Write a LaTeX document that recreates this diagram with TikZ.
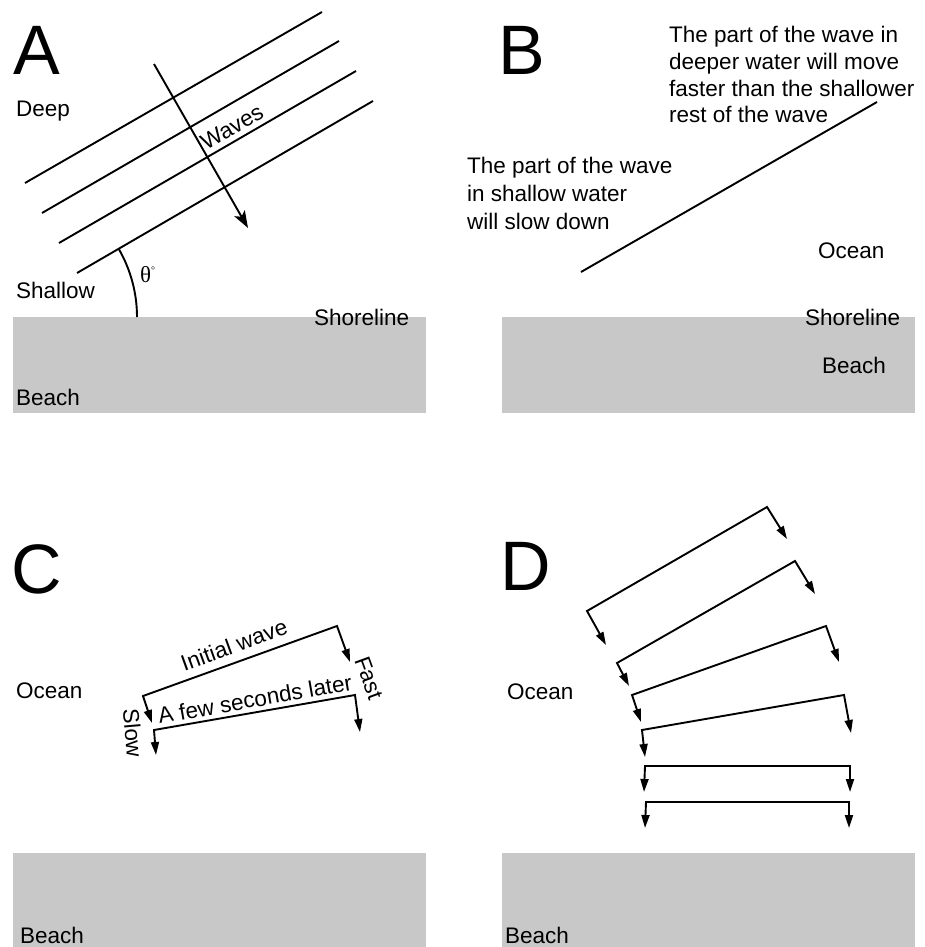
\documentclass[tikz,border=0pt]{standalone}
\usepackage{fontspec}
\setmainfont{Liberation Sans}
\newfontfamily\thetafont{Liberation Serif}
\usetikzlibrary{arrows.meta}
\definecolor{beachgrey}{RGB}{200,200,200}
\begin{document}
\begin{tikzpicture}[x=1pt,y=-1pt,
  lbl/.style={font=\fontsize{22.5}{26}\selectfont, inner sep=0pt, anchor=base west},
  rlbl/.style={font=\fontsize{22.5}{26}\selectfont, inner sep=0pt, anchor=center},
  panel/.style={font=\fontsize{70}{70}\selectfont, inner sep=0pt, anchor=base west},
  wave/.style={line width=1.9pt},
  prop/.style={line width=1.9pt, {Triangle[length=13pt,width=8pt]}-{Triangle[length=13pt,width=8pt]}},
  beach/.style={fill=beachgrey, draw=none}]
\useasboundingbox (0,0) rectangle (924,947);

% ---------- Panel A ----------
\fill[beach] (13,317) rectangle (426,413);
\node[panel] (lA) at (13,75) {A};
\node[lbl] (deep) at (16,117) {Deep};
\node[lbl] (shallow) at (16,298) {Shallow};
\node[lbl] (shoreA) at (314,325) {Shoreline};
\node[lbl] (beachA) at (16,405) {Beach};
\coordinate (a1s) at (25,183);  \coordinate (a1e) at (322,12);
\coordinate (a2s) at (42,213);  \coordinate (a2e) at (339,41);
\coordinate (a3s) at (59,243);  \coordinate (a3e) at (356,71);
\coordinate (a4s) at (77,273);  \coordinate (a4e) at (373,101);
\draw[wave] (a1s) -- (a1e);
\draw[wave] (a2s) -- (a2e);
\draw[wave] (a3s) -- (a3e);
\draw[wave] (a4s) -- (a4e);
\coordinate (arS) at (154,64); \coordinate (arE) at (248,228);
\draw[line width=1.9pt, -{Stealth[length=17pt,width=12pt,inset=4pt]}] (arS) -- (arE);
\node[rlbl, rotate=30] (waves) at (232,127) {Waves};
\coordinate (arcS) at (137,317);
\draw[wave] (arcS) arc[start angle=0, end angle=-30, radius=136];
\node[font=\fontsize{23}{26}\selectfont, inner sep=0pt, anchor=base west] (theta) at (140,282) {\thetafont θ\raisebox{9pt}{\fontsize{10}{10}\selectfont °}};

% ---------- Panel B ----------
\fill[beach] (502,317) rectangle (915,413);
\node[panel] (lB) at (498,75) {B};
\node[lbl, align=left] (deepTxt) at (669,123) {The part of the wave in\\[0.7pt]deeper water will move\\[0.7pt]faster than the shallower\\[0.7pt]rest of the wave};
\node[lbl, align=left] (shalTxt) at (467,229) {The part of the wave\\[2pt]in shallow water\\[2pt]will slow down};
\coordinate (bS) at (581,272); \coordinate (bE) at (877,102);
\draw[wave] (bS) -- (bE);
\node[lbl] (oceanB) at (818,258) {Ocean};
\node[lbl] (shoreB) at (805,325) {Shoreline};
\node[lbl] (beachB) at (822,373) {Beach};

% ---------- Panel C ----------
\fill[beach] (13,853) rectangle (426,947);
\node[panel] (lC) at (11,593) {C};
\node[lbl] (oceanC) at (16,698) {Ocean};
\node[lbl] (beachC) at (20,943) {Beach};
\coordinate (c1Lt) at (152,723); \coordinate (c1L) at (143,696);
\coordinate (c1R) at (337,626);  \coordinate (c1Rt) at (350,662);
\coordinate (c2Lt) at (156,755); \coordinate (c2L) at (154,730);
\coordinate (c2R) at (355,695);  \coordinate (c2Rt) at (360,732);
\draw[prop] (c1Lt) -- (c1L) -- (c1R) -- (c1Rt);
\draw[prop] (c2Lt) -- (c2L) -- (c2R) -- (c2Rt);
\node[rlbl, rotate=20] (initial) at (234,645) {Initial wave};
\node[rlbl, rotate=10] (later) at (255,699) {A few seconds later};
\node[rlbl, rotate=-70] (fast) at (369,678) {Fast};
\node[rlbl, rotate=-85] (slow) at (133,733) {Slow};

% ---------- Panel D ----------
\fill[beach] (502,853) rectangle (915,947);
\node[panel] (lD) at (500,590) {D};
\node[lbl] (oceanD) at (507,699) {Ocean};
\node[lbl] (beachD) at (505,943) {Beach};
\coordinate (d1Lt) at (606,645);   \coordinate (d1L) at (587,611);
\coordinate (d1R) at (767,507);    \coordinate (d1Rt) at (787,539);
\coordinate (d2Lt) at (629,686);   \coordinate (d2L) at (617,663);
\coordinate (d2R) at (795,561);    \coordinate (d2Rt) at (815,594);
\coordinate (d3Lt) at (641,722);   \coordinate (d3L) at (632,695);
\coordinate (d3R) at (826,626);    \coordinate (d3Rt) at (839,662);
\coordinate (d4Lt) at (645,757);   \coordinate (d4L) at (642,730);
\coordinate (d4R) at (844,695);    \coordinate (d4Rt) at (851,733);
\coordinate (d5Lt) at (644,792);   \coordinate (d5L) at (645,766);
\coordinate (d5R) at (850,766);    \coordinate (d5Rt) at (850,792);
\coordinate (d6Lt) at (645,828);   \coordinate (d6L) at (646,802);
\coordinate (d6R) at (849,802);    \coordinate (d6Rt) at (849,828);
\draw[prop] (d1Lt) -- (d1L) -- (d1R) -- (d1Rt);
\draw[prop] (d2Lt) -- (d2L) -- (d2R) -- (d2Rt);
\draw[prop] (d3Lt) -- (d3L) -- (d3R) -- (d3Rt);
\draw[prop] (d4Lt) -- (d4L) -- (d4R) -- (d4Rt);
\draw[prop] (d5Lt) -- (d5L) -- (d5R) -- (d5Rt);
\draw[prop] (d6Lt) -- (d6L) -- (d6R) -- (d6Rt);
\end{tikzpicture}
\end{document}
